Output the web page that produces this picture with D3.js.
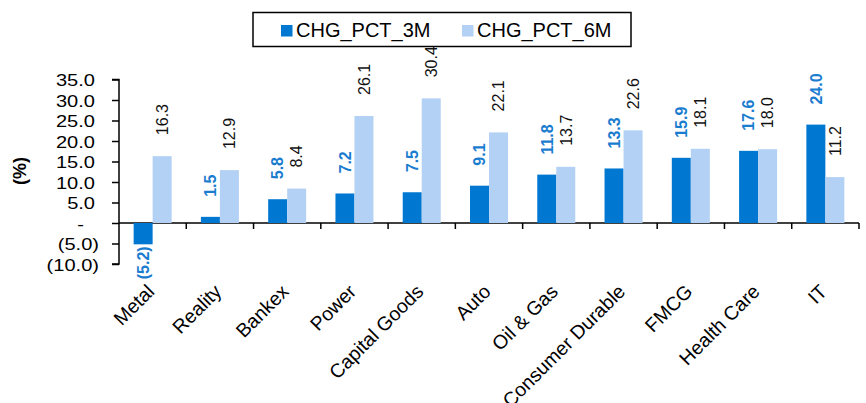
<!DOCTYPE html>
<html>
<head>
<meta charset="utf-8">
<script src="https://cdn.jsdelivr.net/npm/d3@7"></script>
<style>
  html, body { margin: 0; padding: 0; background: #ffffff; }
  svg { display: block; font-family: "Liberation Sans", Arial, sans-serif; }
</style>
</head>
<body>
<svg id="chart" width="866" height="403"></svg>
<script>
// Sector returns, 3-month and 6-month change (%)
const categories = ["Metal", "Reality", "Bankex", "Power", "Capital Goods", "Auto",
                    "Oil & Gas", "Consumer Durable", "FMCG", "Health Care", "IT"];
const seriesNames = ["CHG_PCT_3M", "CHG_PCT_6M"];
const chg3m = [-5.2, 1.5, 5.8, 7.2, 7.5, 9.1, 11.8, 13.3, 15.9, 17.6, 24.0];
const chg6m = [16.3, 12.9, 8.4, 26.1, 30.4, 22.1, 13.7, 22.6, 18.1, 18.0, 11.2];
const yTicks = [-10, -5, 0, 5, 10, 15, 20, 25, 30, 35];
const yTitle = "(%)";

const colors = { "CHG_PCT_3M": "#0078d2", "CHG_PCT_6M": "#b3d1f4" };
const labelColors = { "CHG_PCT_3M": "#1a7ccf", "CHG_PCT_6M": "#111111" };

const svg = d3.select("#chart");
const plot = { left: 119, right: 859, top: 79.5, bottom: 264 };

const x = d3.scaleBand()
  .domain(categories)
  .range([plot.left, plot.right])
  .paddingInner(0.435)
  .paddingOuter(0.2175);

const xs = d3.scaleBand()
  .domain(seriesNames)
  .range([0, x.bandwidth()]);

const y = d3.scaleLinear()
  .domain([-10, 35])
  .range([plot.bottom, plot.top]);

const fmt = v => v < 0 ? "(" + Math.abs(v).toFixed(1) + ")" : v.toFixed(1);

const rows = categories.map((c, i) => ({
  category: c,
  values: [
    { key: "CHG_PCT_3M", value: chg3m[i] },
    { key: "CHG_PCT_6M", value: chg6m[i] }
  ]
}));

// Y axis
const yAxis = d3.axisLeft(y)
  .tickValues(yTicks)
  .tickSize(7)
  .tickFormat(d => d === 0 ? "-" : fmt(d));

const yg = svg.append("g")
  .attr("transform", `translate(${plot.left},0)`)
  .call(yAxis);
yg.select(".domain").attr("stroke", "#000").attr("stroke-width", 1.5)
  .attr("d", `M-7,${y(35)}H0V${y(-10)}H-7`);
yg.selectAll(".tick line").attr("stroke", "#000").attr("stroke-width", 1.5);
yg.selectAll(".tick text")
  .attr("x", null)
  .attr("dy", "0.36em")
  .attr("fill", "#000")
  .attr("font-size", 17)
  .attr("text-anchor", "end")
  .attr("transform", d => {
    const xEnd = d < 0 ? -20 : (d === 0 ? -35 : -24);
    return `translate(${xEnd},0) scale(1.18,1)`;
  });

// Y axis title
svg.append("text")
  .attr("transform", `translate(26,171) rotate(-90)`)
  .attr("text-anchor", "middle")
  .attr("font-size", 18)
  .attr("font-weight", "bold")
  .attr("fill", "#000")
  .text(yTitle);

// X axis line at zero with category separators
const xg = svg.append("g");
xg.append("line")
  .attr("x1", plot.left).attr("x2", plot.right)
  .attr("y1", y(0)).attr("y2", y(0))
  .attr("stroke", "#000").attr("stroke-width", 1.5);
const step = x.step();
xg.selectAll("line.sep")
  .data(categories)
  .join("line")
  .attr("class", "sep")
  .attr("x1", d => x(d) - x.paddingOuter() * step + step)
  .attr("x2", d => x(d) - x.paddingOuter() * step + step)
  .attr("y1", y(0)).attr("y2", y(0) + 6)
  .attr("stroke", "#000").attr("stroke-width", 1.5);

// Category labels
svg.append("g")
  .selectAll("text")
  .data(categories)
  .join("text")
  .attr("transform", d => `translate(${x(d) + x.bandwidth() / 2 - 2},288) rotate(-45)`)
  .attr("text-anchor", "end")
  .attr("dy", "0.35em")
  .attr("font-size", 19.5)
  .attr("fill", "#000")
  .text(d => d);

// Bars
const groups = svg.append("g")
  .selectAll("g")
  .data(rows)
  .join("g")
  .attr("transform", d => `translate(${x(d.category)},0)`);

groups.selectAll("rect")
  .data(d => d.values)
  .join("rect")
  .attr("x", d => xs(d.key))
  .attr("width", xs.bandwidth())
  .attr("y", d => y(Math.max(0, d.value)))
  .attr("height", d => Math.abs(y(d.value) - y(0)))
  .attr("fill", d => colors[d.key]);

// Value labels
groups.selectAll("text")
  .data(d => d.values)
  .join("text")
  .attr("transform", d => {
    const cx = xs(d.key) + xs.bandwidth() / 2;
    const cy = d.value < 0 ? y(d.value) + 2 : y(d.value) - (d.key === "CHG_PCT_3M" ? 20 : 21);
    return `translate(${cx},${cy}) rotate(-90)`;
  })
  .attr("text-anchor", d => d.value < 0 ? "end" : "start")
  .attr("dy", "0.36em")
  .attr("font-size", 16)
  .attr("font-weight", d => d.key === "CHG_PCT_3M" ? "bold" : "normal")
  .attr("fill", d => labelColors[d.key])
  .text(d => fmt(d.value));

// Legend
const legend = svg.append("g");
legend.append("rect")
  .attr("x", 253).attr("y", 12.5)
  .attr("width", 378).attr("height", 34)
  .attr("fill", "#fff").attr("stroke", "#000").attr("stroke-width", 1.5);
const legendPos = [281, 462];
const li = legend.selectAll("g.item")
  .data(seriesNames)
  .join("g")
  .attr("class", "item")
  .attr("transform", (d, i) => `translate(${legendPos[i]},0)`);
li.append("rect")
  .attr("x", 0).attr("y", 25)
  .attr("width", 11.5).attr("height", 11.5)
  .attr("fill", d => colors[d]);
li.append("text")
  .attr("x", 15).attr("y", 36.5)
  .attr("font-size", 20)
  .attr("fill", "#000")
  .text(d => d);
</script>
</body>
</html>
